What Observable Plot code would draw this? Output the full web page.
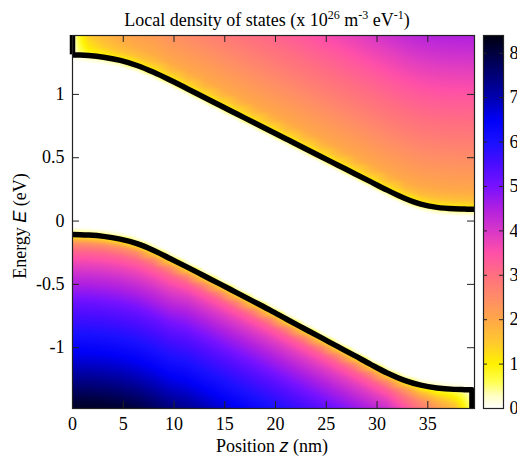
<!DOCTYPE html>
<html><head><meta charset="utf-8">
<script src="https://cdn.jsdelivr.net/npm/d3@7"></script>
<script src="https://cdn.jsdelivr.net/npm/@observablehq/plot@0.6"></script>
<style>
body{margin:0;background:#fff;}
#wrap{position:relative;width:517px;height:459px;overflow:hidden;background:#fff;}
#wrap svg{position:absolute;top:0;}
#wrap text{font-family:"Liberation Serif","Times New Roman",serif;}
</style></head><body><div id="wrap"></div>
<script>
// ---- data ----
const zCols    = [0, 0.76, 1.6, 3.06, 4.7, 6.35, 8.0, 9.6, 11.3, 12.9, 14.6, 16.2, 17.9, 19.5, 21.1, 22.8, 24.5, 26.1, 27.8, 29.4, 31.0, 32.7, 34.3, 35.9, 37.6, 38.6, 39.35, 39.6];
const condEdge = [1.312, 1.311, 1.307, 1.294, 1.268, 1.228, 1.174, 1.113, 1.045, 0.979, 0.91, 0.845, 0.776, 0.711, 0.646, 0.577, 0.508, 0.443, 0.374, 0.309, 0.244, 0.18, 0.133, 0.108, 0.097, 0.095, 0.093, 0.093];
const valEdge  = [-0.107, -0.108, -0.111, -0.121, -0.143, -0.178, -0.232, -0.296, -0.364, -0.43, -0.5, -0.567, -0.638, -0.705, -0.775, -0.848, -0.921, -0.99, -1.063, -1.133, -1.2, -1.258, -1.296, -1.318, -1.329, -1.331, -1.332, -1.332];

// energy offsets above the conduction edge / below the valence edge (eV)
const condOff  = [-0.3, -0.06, -0.03, 0, 0.03, 0.08, 0.15, 0.25, 0.4, 0.6, 0.85, 1.1, 1.4];
const valDepth = [-0.3, -0.06, -0.03, 0, 0.03, 0.07, 0.13, 0.22, 0.34, 0.55, 0.81, 1.07, 1.31, 1.5];

// LDOS profiles (10^26 m^-3 eV^-1)
const c0   = [0,0,0,0.03,0.06,0.08,0.1,0.12,0.15,0.2,0.25,0.3,0.35];
const c08  = [0,0,0.1,0.35,0.55,0.72,0.85,0.95,1.1,1.3,1.5,1.7,1.9];
const c16  = [0,0,0.2,0.6,0.92,1.18,1.4,1.6,1.85,2.1,2.45,2.75,3.1];
const c3   = [0,0,0.25,0.72,1.1,1.45,1.7,1.9,2.15,2.5,2.9,3.35,3.85];
const c5   = [0,0,0.28,0.8,1.18,1.6,1.88,2.08,2.35,2.75,3.2,3.7,4.3];
const c7   = [0,0,0.3,0.84,1.22,1.65,1.95,2.15,2.42,2.8,3.25,3.78,4.4];
const cB   = [0,0,0.3,0.86,1.25,1.7,2.0,2.2,2.48,2.88,3.32,3.85,4.55];
const condLDOS = [c0,c08,c16,c3,c5,c7,c7,cB,cB,cB,cB,cB,cB,cB,cB,cB,cB,cB,cB,cB,cB,cB,cB,cB,cB,cB,cB,cB];

const vA   = [0,0,0.3,0.9,1.5,2.45,3.15,3.7,4.3,5.2,6.1,7.0,8.05,8.5];
const vC   = [0,0,0.3,0.9,1.55,2.5,3.25,3.85,4.45,5.3,6.2,7.1,8.05,8.5];
const v325 = [0,0,0.27,0.82,1.4,2.25,2.95,3.5,4.05,4.85,5.65,6.5,7.3,7.7];
const v35  = [0,0,0.22,0.66,1.15,1.8,2.55,3.05,3.55,4.25,5.0,5.8,6.5,6.8];
const v365 = [0,0,0.18,0.52,0.92,1.45,2.05,2.5,2.9,3.5,4.2,4.9,5.5,5.8];
const v375 = [0,0,0.14,0.42,0.75,1.1,1.6,2.0,2.3,2.8,3.3,3.9,4.4,4.6];
const v385 = [0,0,0.08,0.25,0.45,0.65,0.9,1.1,1.3,1.6,1.9,2.2,2.5,2.6];
const v393 = [0,0,0.03,0.1,0.18,0.25,0.35,0.42,0.5,0.6,0.7,0.8,0.9,1.0];
const v396 = [0,0,0,0.02,0.04,0.06,0.08,0.1,0.12,0.15,0.18,0.2,0.22,0.24];
const valLDOS = [vA,vA,vA,vA,vA,vA,vA,vA,vC,vC,vC,vC,vC,vC,vC,vC,vC,vC,vC,vC,vC,v325,v35,v365,v375,v385,v393,v396];

const xTicks  = [0, 5, 10, 15, 20, 25, 30, 35];
const yTicks  = [-1, -0.5, 0, 0.5, 1];
const cbTicks = [0, 1, 2, 3, 4, 5, 6, 7, 8];

const colorStops = [0, 0.3, 0.6, 1, 1.5, 2, 2.5, 3, 3.5, 4, 4.5, 5, 5.5, 6, 6.5, 7, 7.5, 8, 8.4];
const colorHex   = ["#ffffff","#ffffc0","#ffff50","#fff200","#ffc830","#ffa848","#ff8c68","#ff7080","#ff50a8","#d838c8","#b020e0","#7812ff","#4a0cff","#1a10ff","#0000f8","#0000b0","#000078","#000040","#000010"];

// ---- build ----
const points = [];
zCols.forEach((z, i) => {
  condOff.forEach((o, j) => points.push({z, E: condEdge[i] + o, v: condLDOS[i][j]}));
  valDepth.forEach((d, j) => points.push({z, E: valEdge[i] - d, v: valLDOS[i][j]}));
});
const condLine = zCols.map((z, i) => ({z, E: condEdge[i]}));
const valLine = zCols.map((z, i) => ({z, E: valEdge[i]})).filter(d => d.z <= 39.35);

const W = 517, H = 459, mL = 72, mR = 43, mT = 35, mB = 51;
const xDom = [0, 39.6], yDom = [-1.48, 1.465];
const fw = W - mL - mR, fh = H - mT - mB;
const color = {type: "linear", domain: colorStops, range: colorHex, interpolate: "rgb", clamp: true};
const serif = "Liberation Serif, Times New Roman, serif";
const sans = "Liberation Sans, Arial, sans-serif";
const lw = 5.5, fs = 18;

const main = Plot.plot({
  width: W, height: H, marginLeft: mL, marginRight: mR, marginTop: mT, marginBottom: mB,
  x: {domain: xDom}, y: {domain: yDom}, color,
  style: {fontFamily: serif, fontSize: fs + "px", background: "transparent", color: "#000"},
  marks: [
    Plot.raster(points, {x: "z", y: "E", fill: "v", interpolate: "barycentric", x1: xDom[0], x2: xDom[1], y1: yDom[0], y2: yDom[1]}),
    Plot.line(condLine, {x: "z", y: "E", stroke: "black", strokeWidth: lw, curve: "monotone-x", clip: true}),
    Plot.line(valLine, {x: "z", y: "E", stroke: "black", strokeWidth: lw, curve: "monotone-x", clip: true}),
    Plot.ruleX([0], {y1: condEdge[0], y2: yDom[1], stroke: "black", strokeWidth: lw}),
    Plot.ruleX([39.35], {y1: yDom[0], y2: valEdge[valEdge.length - 1], stroke: "black", strokeWidth: lw}),
    Plot.tickX(xTicks, {x: d => d, insetTop: fh - 7, stroke: "#222"}),
    Plot.tickX(xTicks, {x: d => d, insetBottom: fh - 7, stroke: "#222"}),
    Plot.tickY(yTicks, {y: d => d, insetRight: fw - 7, stroke: "#222"}),
    Plot.tickY(yTicks, {y: d => d, insetLeft: fw - 7, stroke: "#222"}),
    Plot.frame({stroke: "#222", strokeWidth: 1.2}),
    Plot.axisX(xTicks, {tickSize: 0, tickPadding: 9, label: null, fontSize: fs, tickFormat: d => String(d)}),
    Plot.axisY(yTicks, {tickSize: 0, tickPadding: 8, label: null, fontSize: fs, tickFormat: d => String(d)})
  ]
});
main.style.left = "0px";

const cbW = 20;
const cb = Plot.plot({
  width: 80, height: H, marginLeft: 1, marginRight: 80 - 1 - cbW, marginTop: mT, marginBottom: mB,
  x: {domain: [0, 1], axis: null}, y: {domain: [0, 8.4]}, color,
  style: {fontFamily: serif, fontSize: fs + "px", background: "transparent", color: "#000", overflow: "visible"},
  marks: [
    Plot.raster({x1: 0, x2: 1, y1: 0, y2: 8.4, fill: (x, y) => y}),
    Plot.tickY(cbTicks, {y: d => d, insetRight: cbW - 4, stroke: "#222"}),
    Plot.tickY(cbTicks, {y: d => d, insetLeft: cbW - 4, stroke: "#222"}),
    Plot.frame({stroke: "#222", strokeWidth: 1.2}),
    Plot.axisY(cbTicks, {anchor: "right", tickSize: 0, tickPadding: 6, label: null, fontSize: fs})
  ]
});
cb.style.left = "482px";

const wrap = document.getElementById("wrap");
wrap.appendChild(main);
wrap.appendChild(cb);

// titles and axis labels
const svg = d3.select(main);
const title = svg.append("text").attr("x", 267).attr("y", 26).attr("text-anchor", "middle")
  .style("font-family", serif).attr("font-size", fs).attr("fill", "#000");
title.append("tspan").text("Local density of states (x 10");
title.append("tspan").attr("font-size", 12).attr("dy", -7).text("26");
title.append("tspan").attr("dy", 7).text(" m");
title.append("tspan").attr("font-size", 12).attr("dy", -7).text("-3");
title.append("tspan").attr("dy", 7).text(" eV");
title.append("tspan").attr("font-size", 12).attr("dy", -7).text("-1");
title.append("tspan").attr("dy", 7).text(")");

const yl = svg.append("text").attr("transform", "translate(26,226) rotate(-90)").attr("text-anchor", "middle")
  .style("font-family", serif).attr("font-size", fs).attr("fill", "#000");
yl.append("tspan").text("Energy ");
yl.append("tspan").style("font-family", sans).attr("font-style", "italic").text("E");
yl.append("tspan").text(" (eV)");

const xl = svg.append("text").attr("x", 272).attr("y", 452).attr("text-anchor", "middle")
  .style("font-family", serif).attr("font-size", fs).attr("fill", "#000");
xl.append("tspan").text("Position ");
xl.append("tspan").style("font-family", sans).attr("font-style", "italic").text("z");
xl.append("tspan").text(" (nm)");
</script>
</body></html>
